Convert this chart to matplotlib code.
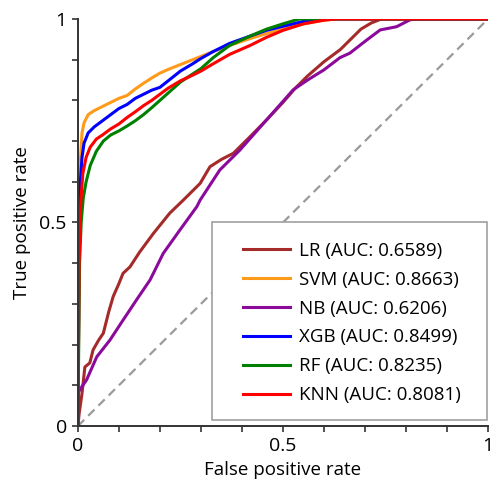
import numpy as np
import matplotlib.pyplot as plt
from matplotlib.patches import Rectangle

plt.rcParams['font.family'] = ['Open Sans', 'DejaVu Sans']

# ROC points
lr_fpr = [0, 0.003, 0.01, 0.017, 0.029, 0.037, 0.05, 0.062, 0.075, 0.086, 0.10, 0.11, 0.127, 0.151,
          0.184, 0.224, 0.257, 0.298, 0.322, 0.35, 0.379, 0.42, 0.46, 0.50, 0.53, 0.56, 0.60, 0.64,
          0.665, 0.69, 0.715, 0.74, 1]
lr_tpr = [0, 0.03, 0.08, 0.145, 0.155, 0.187, 0.21, 0.228, 0.28, 0.318, 0.35, 0.375, 0.391, 0.428,
          0.473, 0.523, 0.555, 0.596, 0.637, 0.655, 0.67, 0.711, 0.752, 0.795, 0.83, 0.86, 0.895, 0.925,
          0.95, 0.975, 0.99, 1.0, 1]

svm_fpr = [0, 0.002, 0.006, 0.01, 0.015, 0.025, 0.04, 0.06, 0.08, 0.10, 0.12, 0.14, 0.16, 0.18, 0.20,
           0.22, 0.25, 0.28, 0.30, 0.33, 0.37, 0.42, 0.46, 0.50, 0.55, 0.60, 0.63, 1]
svm_tpr = [0, 0.5, 0.65, 0.72, 0.745, 0.765, 0.775, 0.785, 0.795, 0.805, 0.812, 0.828, 0.842, 0.855, 0.867,
           0.876, 0.888, 0.9, 0.908, 0.92, 0.935, 0.952, 0.964, 0.975, 0.988, 0.997, 1.0, 1]

nb_fpr = [0, 0, 0.005, 0.021, 0.046, 0.078, 0.11, 0.143, 0.176, 0.208, 0.249, 0.29, 0.298, 0.346,
          0.395, 0.46, 0.525, 0.56, 0.60, 0.639, 0.663, 0.70, 0.737, 0.777, 0.81, 0.83, 1]
nb_tpr = [0, 0.08, 0.09, 0.113, 0.17, 0.211, 0.26, 0.31, 0.359, 0.424, 0.482, 0.539, 0.555, 0.629,
          0.678, 0.752, 0.826, 0.85, 0.875, 0.905, 0.916, 0.945, 0.973, 0.981, 0.998, 1.0, 1]

xgb_fpr = [0, 0.003, 0.006, 0.01, 0.015, 0.025, 0.04, 0.06, 0.08, 0.10, 0.12, 0.14, 0.16, 0.18, 0.20,
           0.22, 0.25, 0.28, 0.30, 0.33, 0.37, 0.42, 0.46, 0.50, 0.55, 0.58, 1]
xgb_tpr = [0, 0.45, 0.6, 0.66, 0.695, 0.72, 0.735, 0.75, 0.765, 0.78, 0.79, 0.805, 0.815, 0.825, 0.832,
           0.848, 0.872, 0.89, 0.903, 0.92, 0.94, 0.958, 0.972, 0.982, 0.994, 1.0, 1]

rf_fpr = [0, 0.004, 0.008, 0.013, 0.02, 0.03, 0.045, 0.062, 0.08, 0.10, 0.12, 0.14, 0.16, 0.18, 0.20,
          0.22, 0.25, 0.28, 0.30, 0.33, 0.37, 0.42, 0.46, 0.50, 0.54, 1]
rf_tpr = [0, 0.4, 0.5, 0.56, 0.6, 0.64, 0.675, 0.7, 0.715, 0.725, 0.737, 0.75, 0.765, 0.782, 0.8,
          0.818, 0.845, 0.865, 0.878, 0.905, 0.935, 0.958, 0.975, 0.988, 1.0, 1]

knn_fpr = [0, 0.003, 0.007, 0.012, 0.02, 0.03, 0.045, 0.06, 0.08, 0.10, 0.12, 0.14, 0.16, 0.18, 0.20,
           0.22, 0.25, 0.28, 0.30, 0.33, 0.37, 0.42, 0.46, 0.50, 0.55, 0.60, 0.63, 1]
knn_tpr = [0, 0.4, 0.55, 0.62, 0.66, 0.685, 0.705, 0.715, 0.73, 0.742, 0.758, 0.772, 0.787, 0.8, 0.815,
           0.83, 0.848, 0.862, 0.872, 0.89, 0.913, 0.935, 0.955, 0.972, 0.988, 0.997, 1.0, 1]

model_names = ['LR', 'SVM', 'NB', 'XGB', 'RF', 'KNN']
auc_values = [0.6589, 0.8663, 0.6206, 0.8499, 0.8235, 0.8081]
line_colors = ['#a52a2a', '#ff9a1a', '#8b0a9b', '#0000ff', '#008000', '#ff0000']

tick_values = [0, 0.1, 0.2, 0.3, 0.4, 0.5, 0.6, 0.7, 0.8, 0.9, 1.0]
tick_labels = ['0', '', '', '', '', '0.5', '', '', '', '', '1']

curves = [(lr_fpr, lr_tpr), (svm_fpr, svm_tpr), (nb_fpr, nb_tpr),
          (xgb_fpr, xgb_tpr), (rf_fpr, rf_tpr), (knn_fpr, knn_tpr)]

fig = plt.figure(figsize=(4.9, 4.8), dpi=100)
ax = fig.add_axes([0.159, 0.1125, 0.837, 0.848])

# 对角参考线
ax.plot([0, 1], [0, 1], color='#9a9a9a', lw=1.6, dashes=(4, 2.5))

for (fpr, tpr), name, auc, c in zip(curves, model_names, auc_values, line_colors):
    ax.plot(fpr, tpr, color=c, lw=2.2, label=f'{name} (AUC: {auc:.4f})')

ax.set_xlim(0, 1)
ax.set_ylim(0, 1)
ax.set_xticks(tick_values)
ax.set_xticklabels(tick_labels)
ax.set_yticks(tick_values)
ax.set_yticklabels(tick_labels)
ax.tick_params(direction='out', length=4, width=1.2, color='#333333', labelsize=14, pad=4)

for side in ['top', 'right']:
    ax.spines[side].set_visible(False)
for side in ['left', 'bottom']:
    ax.spines[side].set_linewidth(1.4)
    ax.spines[side].set_color('#333333')

ax.set_xlabel('False positive rate', fontsize=13.5, labelpad=4)
ax.set_ylabel('True positive rate', fontsize=13.5, labelpad=6)

# 图例外框（单独画，便于控制留白）
box = Rectangle((0.327, 0.015), 0.671, 0.486, transform=ax.transAxes,
                facecolor='white', edgecolor='#a0a0a0', lw=1.2, zorder=4, clip_on=False)
ax.add_patch(box)

leg = ax.legend(loc='center left', bbox_to_anchor=(0.402, 0.253), borderaxespad=0,
                fontsize=13.5, frameon=False, handlelength=2.5, handletextpad=0.5,
                borderpad=0, labelspacing=0.58)
leg.set_zorder(5)

fig.savefig('out.png', dpi=100, facecolor='white')
